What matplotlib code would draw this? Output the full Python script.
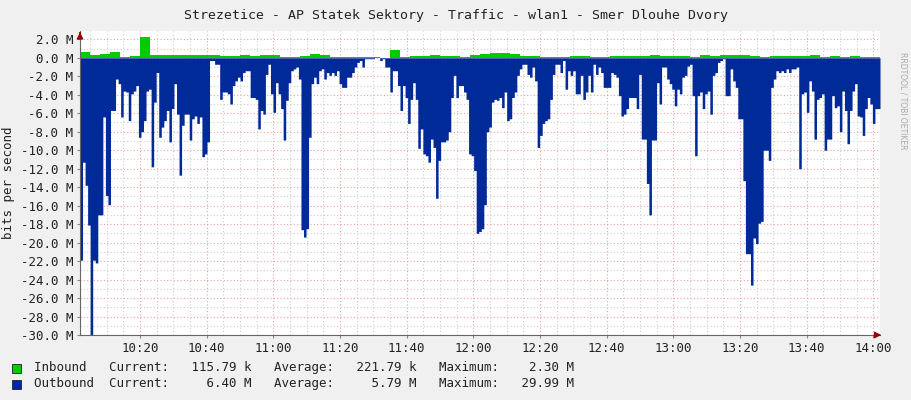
import numpy as np
import matplotlib
matplotlib.use("Agg")
import matplotlib.pyplot as plt
from matplotlib.ticker import FixedLocator

# Outbound traffic (M bits/s, drawn negative), read left to right
out_a = [-21.9,-11.3,-13.8,-18.1,-30.0,-21.9,-22.2,-17.0,-17.0,-6.4,-14.9,-15.9,-5.7,-5.7,-2.3,-2.8,-6.4,-3.6,-3.7,-6.8,-3.9,-3.6,-3.0,-8.6,-8.0,-6.8,-3.6,-3.4,-11.8,-4.8,-1.6,-8.6,-7.5,-6.8,-5.7,-9.1,-5.5,-2.8,-6.1,-12.7,-7.3,-6.1,-6.1,-8.9,-6.6,-6.3,-7.1,-6.4,-10.7,-10.4,-9.1,-0.3,-0.3,-0.7,-0.7,-4.5,-3.7,-3.7,-3.9,-5.0,-3.0,-2.5,-2.1,-2.5,-1.6,-1.4,-1.4,-4.3,-4.3,-4.5,-7.7,-5.7,-6.1,-1.8,-0.7,-3.9,-5.9,-2.7,-3.9,-5.5,-8.9,-4.6,-2.7,-1.4,-1.2,-1.0,-2.3,-18.6,-19.4,-18.5,-8.6,-2.8,-2.1,-2.8,-1.4,-1.2,-2.3,-1.6,-1.9,-1.6,-1.9,-1.4,-2.8,-3.2]
out_b = [-3.2,-2.1,-2.1,-1.6,-1.0,-0.5,-0.3,-1.0,-0.1,-0.1,-0.1,-0.1,0,0,-0.3,-0.1,-1.0,-1.0,-3.7,-1.4,-1.4,-3.0,-5.7,-3.0,-4.3,-7.1,-4.5,-2.7,-4.5,-9.8,-7.7,-10.4,-10.6,-11.3,-8.8,-9.7,-15.2,-11.1,-9.1,-9.1,-8.9,-8.0,-4.3,-1.9,-4.3,-3.0,-3.0,-3.7,-4.5,-10.4,-10.6,-12.2,-19.0,-18.8,-18.5,-15.9,-8.0,-7.5,-4.8,-4.5,-4.6,-4.3,-5.4,-3.7,-6.8,-6.6,-4.3,-3.7,-1.9,-1.2,-0.7,-0.7,-1.8,-2.1,-1.0,-2.5,-9.7,-8.4,-7.1,-6.8,-6.6,-4.5,-1.8,-0.7,-0.7,-1.6,-0.3,-3.4,-1.4,-1.9,-1.4,-3.9,-3.9,-1.9,-4.5,-3.7,-1.9,-3.7,-0.7,-1.8,-1.0,-1.6,-3.2]
out_c = [-3.2,-3.2,-1.6,-1.8,-2.1,-4.1,-6.3,-6.1,-5.5,-4.3,-4.3,-4.3,-5.5,-1.8,-8.8,-8.8,-13.6,-17.0,-8.9,-8.9,-2.7,-5.0,-1.0,-1.0,-2.3,-2.8,-3.4,-5.2,-3.4,-3.9,-2.1,-1.9,-0.9,-0.7,-4.1,-10.6,-4.1,-3.7,-5.5,-3.9,-3.6,-6.1,-1.9,-1.6,-0.5,-0.3,-0.1,-4.1,-4.1,-1.2,-2.5,-3.2,-6.6,-6.6,-13.3,-21.2,-21.2,-24.6,-19.5,-20.1,-17.9,-17.7,-10.0,-10.0,-11.1,-3.2,-2.3,-1.4,-1.6,-1.4,-1.6,-1.2,-1.6,-1.2,-1.2,-1.0,-12.0,-3.9,-3.7,-5.9,-2.5,-3.6,-8.8,-4.5,-4.3,-3.9,-10.0,-8.8,-8.8,-4.1,-5.4,-5.2,-8.0,-3.6,-5.7,-9.3,-5.7,-3.6,-2.8,-6.3,-6.4,-8.4,-5.5,-4.3,-5.0,-7.1,-5.5,-5.5]
# Inbound traffic (M bits/s)
inbound = [0.6,0.25,0.4,0.6,0.1,0.2,2.3,0.25,0.3,0.3,0.3,0.3,0.35,0.3,0.2,0.2,0.3,0.2,0.3,0.3,0.05,0.05,0.2,0.4,0.3,0.1,0.1,0.05,0.1,0.05,0.02,0.8,0.1,0.2,0.2,0.25,0.2,0.15,0.1,0.3,0.45,0.5,0.5,0.45,0.2,0.15,0.1,0.1,0.1,0.15,0.2,0.1,0.1,0.15,0.15,0.2,0.15,0.25,0.2,0.15,0.2,0.1,0.35,0.2,0.3,0.3,0.25,0.15,0.1,0.15,0.15,0.2,0.15,0.25,0.1,0.15,0.1,0.15,0.1,0.1]
tick_labels = ["10:20","10:40","11:00","11:20","11:40","12:00","12:20","12:40","13:00","13:20","13:40","14:00"]
y_labels = [2.0,0.0,-2.0,-4.0,-6.0,-8.0,-10.0,-12.0,-14.0,-16.0,-18.0,-20.0,-22.0,-24.0,-26.0,-28.0,-30.0]

t0, t1 = 2.0, 242.0  # minutes after 10:00
outbound = np.array(out_a + out_b + out_c)
to = np.linspace(t0, t1, len(outbound) + 1)
ti = np.linspace(t0, t1, len(inbound) + 1)

mono = "DejaVu Sans Mono"
fig = plt.figure(figsize=(9.11, 4.0), dpi=100, facecolor="#F0F0F0")
ax = fig.add_axes([80/911, 65/400, 800/911, 304/400])
ax.set_facecolor("white")
ax.set_xlim(t0, t1)
ax.set_ylim(-30, 2.9)

for m in np.arange(5, 242, 5):
    major = m % 20 == 0
    ax.axvline(m, color="#F5A0A0" if major else "#CFCFCF", lw=0.8, ls=(0, (1, 2)), zorder=0)
for v in np.arange(-30, 3, 1):
    major = v % 2 == 0
    ax.axhline(v, color="#F5A0A0" if major else "#CFCFCF", lw=0.8, ls=(0, (1, 2)), zorder=0)

ax.fill_between(to, np.append(outbound, outbound[-1]), 0, step="post", color="#002A97", lw=0, zorder=2)
ax.fill_between(ti, np.append(inbound, inbound[-1]), 0, step="post", color="#00CC00", lw=0, zorder=2)

ax.xaxis.set_major_locator(FixedLocator(np.arange(20, 241, 20)))
ax.set_xticklabels(tick_labels)
ax.set_yticks(y_labels)
ax.set_yticklabels([f"{v:.1f} M" for v in y_labels])
for lab in ax.get_xticklabels() + ax.get_yticklabels():
    lab.set_fontfamily(mono)
    lab.set_fontsize(9)
    lab.set_color("#222222")
ax.tick_params(length=2, color="#888888", pad=3)
for s in ["top", "right"]:
    ax.spines[s].set_visible(False)
ax.spines["left"].set_color("#666666")
ax.spines["bottom"].set_color("#666666")
ax.set_ylabel("bits per second", fontfamily=mono, fontsize=9, color="#222222")
ax.annotate("", xy=(1.005, 0), xycoords="axes fraction", xytext=(0.99, 0),
            arrowprops=dict(arrowstyle="-|>", color="#990000", lw=0.8))
ax.annotate("", xy=(0, 1.005), xycoords="axes fraction", xytext=(0, 0.985),
            arrowprops=dict(arrowstyle="-|>", color="#990000", lw=0.8))

fig.text(0.5, 1 - 15/400, "Strezetice - AP Statek Sektory - Traffic - wlan1 - Smer Dlouhe Dvory",
         ha="center", va="center", fontfamily=mono, fontsize=9.5, color="#222222")
fig.text(903/911, 0.87, "RRDTOOL / TOBI OETIKER", rotation=270, ha="center", va="top",
         fontfamily="DejaVu Sans", fontsize=5.5, color="#AAAAAA")

rows = [("#00CC00", "Inbound   Current:   115.79 k   Average:   221.79 k   Maximum:    2.30 M", 368),
        ("#002A97", "Outbound  Current:     6.40 M   Average:     5.79 M   Maximum:   29.99 M", 384)]
for col, txt, y in rows:
    fig.patches.append(plt.Rectangle((12/911, 1 - (y + 5)/400), 9/911, 9/400, transform=fig.transFigure,
                                     facecolor=col, edgecolor="#222222", lw=0.6))
    fig.text(34/911, 1 - y/400, txt, ha="left", va="center", fontfamily=mono, fontsize=9, color="#222222")

fig.savefig("out.png", dpi=100, facecolor=fig.get_facecolor())
